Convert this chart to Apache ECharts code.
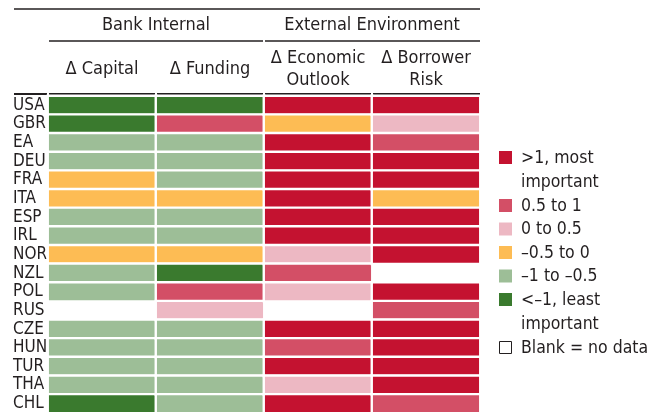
<!DOCTYPE html>
<html>
<head>
<meta charset="utf-8">
<script src="https://cdn.jsdelivr.net/npm/echarts@6/dist/echarts.min.js"></script>
<style>
  html, body { margin: 0; padding: 0; background: #fff; }
  #chart { width: 662px; height: 413px; }
</style>
</head>
<body>
<div id="chart"></div>
<script>
var countries = ['USA', 'GBR', 'EA', 'DEU', 'FRA', 'ITA', 'ESP', 'IRL', 'NOR', 'NZL', 'POL', 'RUS', 'CZE', 'HUN', 'TUR', 'THA', 'CHL'];
var columns = ['\u0394 Capital', '\u0394 Funding', '\u0394 Economic\nOutlook', '\u0394 Borrower\nRisk'];
var groups = ['Bank Internal', 'External Environment'];

// bucket codes: 0 = <-1 ... 5 = >1, null = no data
var capital  = [0, 0, 1, 1, 2, 2, 1, 1, 2, 1, 1, null, 1, 1, 1, 1, 0];
var funding  = [0, 4, 1, 1, 1, 2, 1, 1, 2, 0, 4, 3, 1, 1, 1, 1, 1];
var economic = [5, 2, 5, 5, 5, 5, 5, 5, 3, 4, 3, null, 5, 4, 5, 3, 5];
var borrower = [5, 3, 4, 5, 5, 2, 5, 5, 5, null, 5, 4, 5, 5, 5, 5, 4];

var bucketLabels = ['<\u20131, least\nimportant', '\u20131 to \u20130.5', '\u20130.5 to 0', '0 to 0.5', '0.5 to 1', '>1, most\nimportant'];
var bucketColors = ['#3a7a2e', '#9dbe97', '#fdbc54', '#edb8c3', '#d34f66', '#c41230'];
var blankLabel = 'Blank = no data';

var FONT = "'Liberation Sans Narrow', 'DejaVu Sans Condensed', sans-serif";
var INK = '#231f20';

var cols = [capital, funding, economic, borrower];
var cells = [];
for (var c = 0; c < cols.length; c++) {
    for (var r = 0; r < countries.length; r++) {
        if (cols[c][r] !== null) cells.push([c, r, cols[c][r]]);
    }
}

var pieces = [];
for (var i = 0; i < bucketColors.length; i++) {
    pieces.push({value: i, color: bucketColors[i]});
}

// header rules + group titles + legend (layout only)
var gfx = [];
function hline(x1, x2, y, w) {
    gfx.push({type: 'line', shape: {x1: x1, y1: y, x2: x2, y2: y}, style: {stroke: INK, lineWidth: w}, silent: true});
}
hline(14, 480, 9, 1.5);
hline(49, 263, 41, 1.5);
hline(265, 480, 41, 1.5);
[[14, 47], [49, 155], [157, 263], [265, 371], [373, 480]].forEach(function (s) {
    hline(s[0], s[1], 94, 2);
});
gfx.push({type: 'text', x: 156, y: 25, style: {text: groups[0], font: '18px ' + FONT, fill: INK, align: 'center', verticalAlign: 'middle'}});
gfx.push({type: 'text', x: 372, y: 25, style: {text: groups[1], font: '18px ' + FONT, fill: INK, align: 'center', verticalAlign: 'middle'}});

var ly = 158;
for (var k = bucketColors.length - 1; k >= 0; k--) {
    gfx.push({type: 'rect', shape: {x: 499, y: ly - 7, width: 13, height: 13}, style: {fill: bucketColors[k]}});
    gfx.push({type: 'text', x: 521, y: ly - 12, style: {text: bucketLabels[k], font: '17.5px ' + FONT, fill: INK, lineHeight: 24, verticalAlign: 'top'}});
    ly += bucketLabels[k].indexOf('\n') >= 0 ? 48 : 23.5;
}
gfx.push({type: 'rect', shape: {x: 499.5, y: ly - 6.5, width: 12, height: 12}, style: {fill: '#fff', stroke: INK, lineWidth: 1}});
gfx.push({type: 'text', x: 521, y: ly - 12, style: {text: blankLabel, font: '17.5px ' + FONT, fill: INK, lineHeight: 24, verticalAlign: 'top'}});

var myChart = echarts.init(document.getElementById('chart'));
var option = {
    animation: false,
    grid: {left: 48, top: 96, width: 432, height: 318},
    xAxis: {
        type: 'category',
        position: 'top',
        data: columns,
        axisLine: {show: false},
        axisTick: {show: false},
        splitLine: {show: false},
        axisLabel: {
            interval: 0,
            hideOverlap: false,
            margin: 27,
            verticalAlign: 'middle',
            fontFamily: FONT,
            fontSize: 18,
            lineHeight: 22,
            color: INK
        }
    },
    yAxis: {
        type: 'category',
        inverse: true,
        data: countries,
        axisLine: {show: false},
        axisTick: {show: false},
        splitLine: {show: false},
        axisLabel: {
            interval: 0,
            hideOverlap: false,
            margin: 35,
            align: 'left',
            fontFamily: FONT,
            fontSize: 17,
            color: INK
        }
    },
    visualMap: {
        type: 'piecewise',
        show: false,
        dimension: 2,
        pieces: pieces
    },
    series: [{
        type: 'heatmap',
        data: cells,
        itemStyle: {borderColor: '#fff', borderWidth: 2.4},
        emphasis: {disabled: true}
    }],
    graphic: gfx
};
myChart.setOption(option, true);
</script>
</body>
</html>
